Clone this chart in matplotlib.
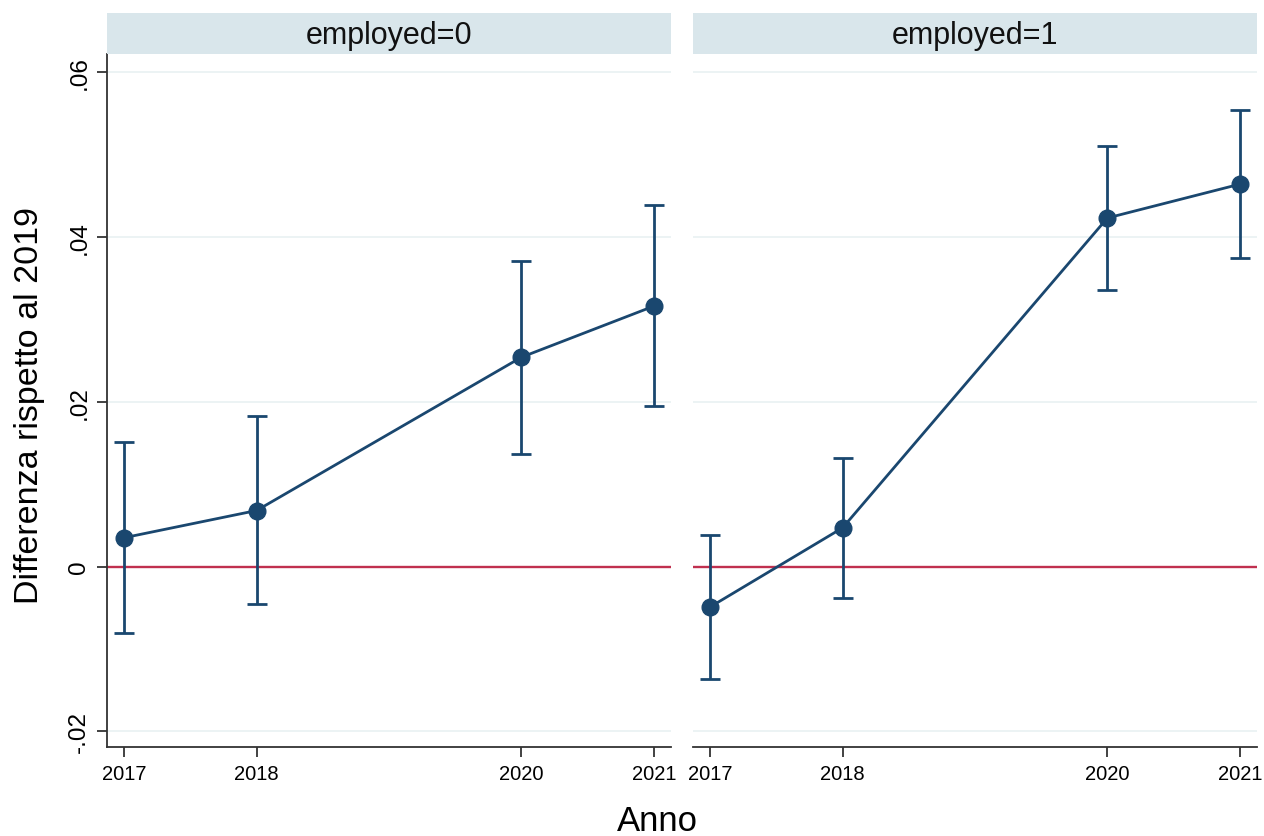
import matplotlib
matplotlib.use("Agg")
from matplotlib import pyplot as plt
import numpy as np

plt.rcParams["font.family"] = ["Liberation Sans", "DejaVu Sans"]

years = [2017, 2018, 2020, 2021]
panels = ["employed=0", "employed=1"]

est_unemp = [0.0035, 0.0068, 0.0254, 0.0316]
lo_unemp = [-0.0081, -0.0046, 0.0136, 0.0195]
hi_unemp = [0.0151, 0.0183, 0.0371, 0.0439]

est_emp = [-0.0049, 0.0047, 0.0423, 0.0464]
lo_emp = [-0.0136, -0.0038, 0.0336, 0.0375]
hi_emp = [0.0038, 0.0132, 0.0510, 0.0554]

yticks = [-0.02, 0, 0.02, 0.04, 0.06]
ytick_labels = ["-.02", "0", ".02", ".04", ".06"]

navy = "#1a476f"
zero_col = "#c0304f"
grid_col = "#eaf2f3"
strip_col = "#d9e6eb"

W, H = 1264, 837
fig = plt.figure(figsize=(W / 100, H / 100), dpi=100)

panel_x = [107, 693]
panel_w = 564
top, bottom = 55, 748
series = [(est_unemp, lo_unemp, hi_unemp), (est_emp, lo_emp, hi_emp)]

for i, (name, (est, lo, hi)) in enumerate(zip(panels, series)):
    ax = fig.add_axes([panel_x[i] / W, 1 - bottom / H, panel_w / W, (bottom - top) / H])
    est = np.array(est)
    yerr = [est - np.array(lo), np.array(hi) - est]
    ax.axhline(0, color=zero_col, lw=1.7, zorder=1)
    ax.errorbar(years, est, yerr=yerr, color=navy, lw=2.0, elinewidth=2.0,
                capsize=7, capthick=2.0, marker="o", markersize=12, zorder=3)
    ax.set_xlim(2016.87, 2021.13)
    ax.set_ylim(-0.0219, 0.0622)
    ax.set_xticks(years)
    ax.set_xticklabels([str(y) for y in years], fontsize=14.5)
    ax.set_yticks(yticks)
    ax.grid(axis="y", color=grid_col, lw=1.3)
    ax.set_axisbelow(True)
    for s in ["top", "right"]:
        ax.spines[s].set_visible(False)
    ax.spines["bottom"].set_color("#333333")
    ax.spines["bottom"].set_linewidth(1.3)
    ax.tick_params(axis="x", length=7, width=1.3, color="#333333", pad=5)
    if i == 0:
        ax.set_yticklabels(ytick_labels, fontsize=17.5, rotation=90, va="center")
        ax.tick_params(axis="y", length=7, width=1.3, color="#333333", pad=5)
        ax.spines["left"].set_color("#333333")
        ax.spines["left"].set_linewidth(1.3)
    else:
        ax.set_yticklabels([])
        ax.tick_params(axis="y", length=0)
        ax.spines["left"].set_visible(False)

    strip = fig.add_axes([panel_x[i] / W, 1 - top / H, panel_w / W, 41 / H])
    strip.set_facecolor(strip_col)
    strip.set_xticks([])
    strip.set_yticks([])
    for s in strip.spines.values():
        s.set_visible(False)
    strip.text(0.5, 0.47, name, ha="center", va="center", fontsize=22,
               color="#111111", transform=strip.transAxes)

fig.text(30 / W, 1 - 405 / H, "Differenza rispetto al 2019", rotation=90,
         ha="center", va="center", fontsize=24.5)
fig.text(657 / W, 1 - 822 / H, "Anno", ha="center", va="center", fontsize=25)

fig.savefig("out.png", dpi=100)
